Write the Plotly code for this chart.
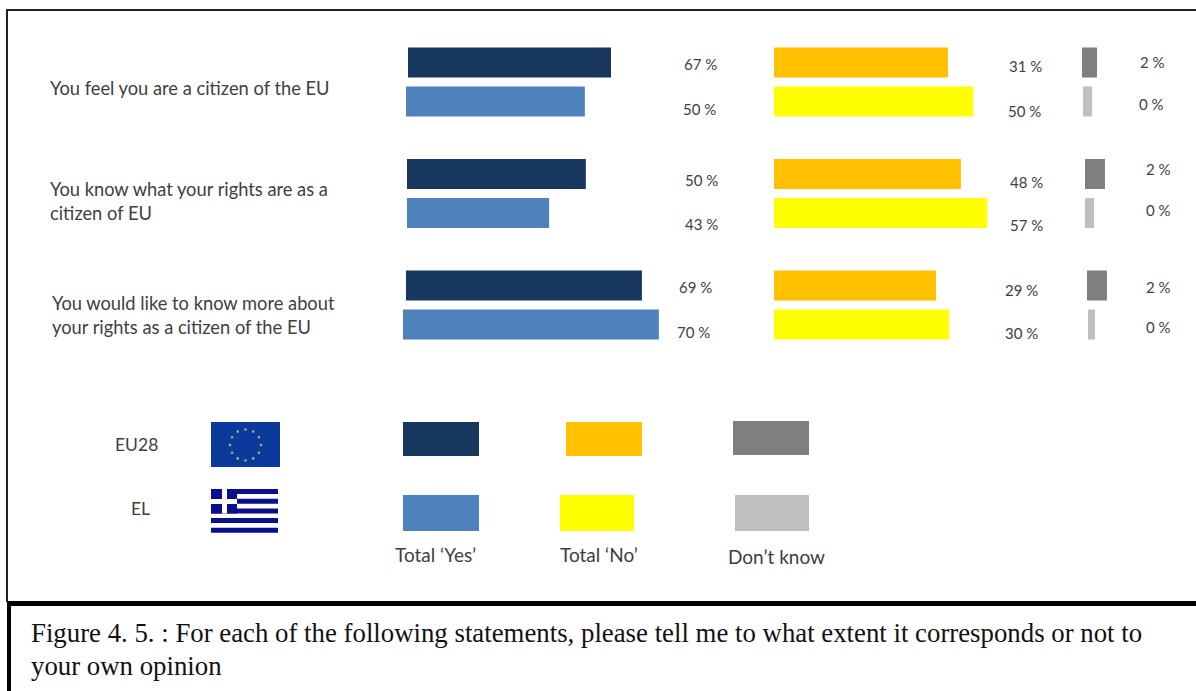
import math
import plotly.graph_objects as go

# ---------- data ----------
statements = [
    ["You feel you are a citizen of the EU"],
    ["You know what your rights are as a", "citizen of EU"],
    ["You would like to know more about", "your rights as a citizen of the EU"],
]
categories = ["Feel citizen", "Know rights", "Like to know more"]
# printed values
yes_eu = [67, 50, 69]
yes_el = [50, 43, 70]
no_eu = [31, 48, 29]
no_el = [50, 57, 30]
dk_eu = [2, 2, 2]
dk_el = [0, 0, 0]
# bar lengths as drawn in the picture (it does not draw them proportionally to the printed values)
yes_eu_drawn = [58.0, 51.1, 67.4]
yes_el_drawn = [51.1, 40.6, 73.1]
no_eu_drawn = [49.7, 53.4, 46.3]
no_el_drawn = [56.9, 60.9, 50.0]
dk_eu_drawn = [4.3, 5.7, 5.7]
dk_el_drawn = [2.6, 2.6, 2.0]
legend_rows = ["EU28", "EL"]
legend_cols = ["Total ‘Yes’", "Total ‘No’", "Don’t know"]
caption = [
    "Figure 4. 5. : For each of the following statements, please tell me to what extent it corresponds or not to",
    "your own opinion",
]

# ---------- layout constants ----------
W, H = 1196, 691
NAVY, BLUE, ORANGE, YELLOW, GREY, LGREY = "#17375e", "#4f81bd", "#ffc000", "#ffff00", "#7f7f7f", "#bfbfbf"
TXT = "#404040"
SANS = "Lato, 'Open Sans', sans-serif"
SERIF = "'Liberation Serif', serif"
PX_PER_UNIT = 3.5


def px(x):
    return x / W


def py(y):
    return 1 - y / H


panels = [
    # axis, left px, right px, eu values, el values, colours, eu nudges, el nudges
    ("x", 403, 700, yes_eu_drawn, yes_el_drawn, yes_eu, yes_el, NAVY, BLUE, [5, 4, 3], [3, 4, 0]),
    ("x2", 774, 1040, no_eu_drawn, no_el_drawn, no_eu, no_el, ORANGE, YELLOW, [0, 0, 0], [0, 0, 0]),
    ("x3", 1082, 1130, dk_eu_drawn, dk_el_drawn, dk_eu, dk_el, GREY, LGREY, [0, 3, 5], [1, 3, 6]),
]

fig = go.Figure()
layout_axes = {}
for ax, left, right, eu, el, eu_txt, el_txt, c1, c2, n1, n2 in panels:
    for name, vals, printed, col, nudge in (("EU28", eu, eu_txt, c1, n1), ("EL", el, el_txt, c2, n2)):
        fig.add_trace(go.Bar(
            y=categories, x=vals, base=[n / PX_PER_UNIT for n in nudge], orientation="h",
            marker=dict(color=col, line=dict(width=0)), name=name, offsetgroup=name,
            xaxis=ax, yaxis="y", showlegend=False,
            customdata=printed, hovertemplate="%{y}: %{customdata} %<extra>" + name + "</extra>",
        ))
    key = "xaxis" if ax == "x" else "xaxis" + ax[1:]
    layout_axes[key] = dict(domain=[px(left), px(right)], range=[0, (right - left) / PX_PER_UNIT],
                            visible=False, anchor="y", fixedrange=True)

shapes = []


def rect(x0, y0, x1, y1, color, layer="above"):
    shapes.append(dict(type="rect", xref="paper", yref="paper", x0=px(x0), x1=px(x1), y0=py(y0), y1=py(y1),
                       fillcolor=color, line=dict(width=0), layer=layer))


# frame
rect(6, 9, 1196, 11, "#222222")
rect(6, 9, 8, 602, "#222222")
rect(7, 601, 1196, 606, "#000000")
rect(7, 601, 11, 691, "#000000")

# legend swatches
rect(403, 422, 479, 456, NAVY)
rect(566, 422, 642, 456, ORANGE)
rect(733, 421, 809, 455, GREY)
rect(403, 495, 479, 531, BLUE)
rect(560, 495, 634, 531, YELLOW)
rect(735, 495, 809, 531, LGREY)

# EU flag
rect(211, 422, 280, 467, "#0b3a9c")
for i in range(12):
    a = math.radians(i * 30)
    cx, cy = 245.5 + 15.5 * math.sin(a), 445 - 15.5 * math.cos(a)
    shapes.append(dict(type="circle", xref="paper", yref="paper", x0=px(cx - 1.3), x1=px(cx + 1.3),
                       y0=py(cy + 1.3), y1=py(cy - 1.3), fillcolor="#a9b56a", line=dict(width=0)))

# Greek flag
GR = "#0a0f8c"
for i in range(5):
    y0 = 489 + i * 9.7
    rect(211, y0, 278, y0 + 5, GR)
rect(211, 489, 237, 513.5, GR)
rect(222, 489, 227, 513.5, "#ffffff")
rect(211, 499, 237, 504, "#ffffff")

ann = []


def label(x, y, text, size=13, anchor="center", font=SANS, color=TXT):
    ann.append(dict(xref="paper", yref="paper", x=px(x), y=py(y), text=text, showarrow=False,
                    xanchor=anchor, yanchor="middle", font=dict(family=font, size=size, color=color)))


# statements
stmt_pos = [[(48, 88)], [(48, 189), (48, 213)], [(50, 303), (50, 327)]]
for lines, pos in zip(statements, stmt_pos):
    for line, (x, y) in zip(lines, pos):
        label(x, y, line, size=18.3, anchor="left")

# value labels
yes_pos_eu = [(700, 64), (701, 180), (696, 287)]
yes_pos_el = [(699, 109), (701, 224), (694, 332)]
no_pos_eu = [(1025, 66), (1026, 182), (1021, 290)]
no_pos_el = [(1024, 111), (1026, 225), (1021, 333)]
dk_pos_eu = [(1152, 62), (1158, 169), (1158, 287)]
dk_pos_el = [(1151, 104), (1158, 210), (1158, 327)]
for vals, pos in ((yes_eu, yes_pos_eu), (yes_el, yes_pos_el), (no_eu, no_pos_eu),
                  (no_el, no_pos_el), (dk_eu, dk_pos_eu), (dk_el, dk_pos_el)):
    for v, (x, y) in zip(vals, pos):
        label(x, y, f"{v} %", size=15)

# legend text
label(136, 444, legend_rows[0], size=17.5)
label(140, 508, legend_rows[1], size=17.5)
label(435, 554, legend_cols[0], size=19)
label(599, 554, legend_cols[1], size=19)
label(776, 556, legend_cols[2], size=19)

# caption
label(29, 633, caption[0], size=26.8, anchor="left", font=SERIF, color="#111111")
label(29, 666, caption[1], size=26.8, anchor="left", font=SERIF, color="#111111")

fig.update_layout(
    width=W, height=H, margin=dict(l=0, r=0, t=0, b=0),
    paper_bgcolor="#ffffff", plot_bgcolor="rgba(0,0,0,0)",
    barmode="group", bargap=0.3, bargroupgap=0.23, showlegend=False,
    yaxis=dict(domain=[py(360.75), py(26.25)], autorange="reversed", visible=False, type="category",
               categoryorder="array", categoryarray=categories, fixedrange=True),
    shapes=shapes, annotations=ann,
    **layout_axes,
)
fig.write_html("out.html", config={"displayModeBar": False},
               post_script="document.body.style.margin='0';document.body.style.overflow='hidden';")
